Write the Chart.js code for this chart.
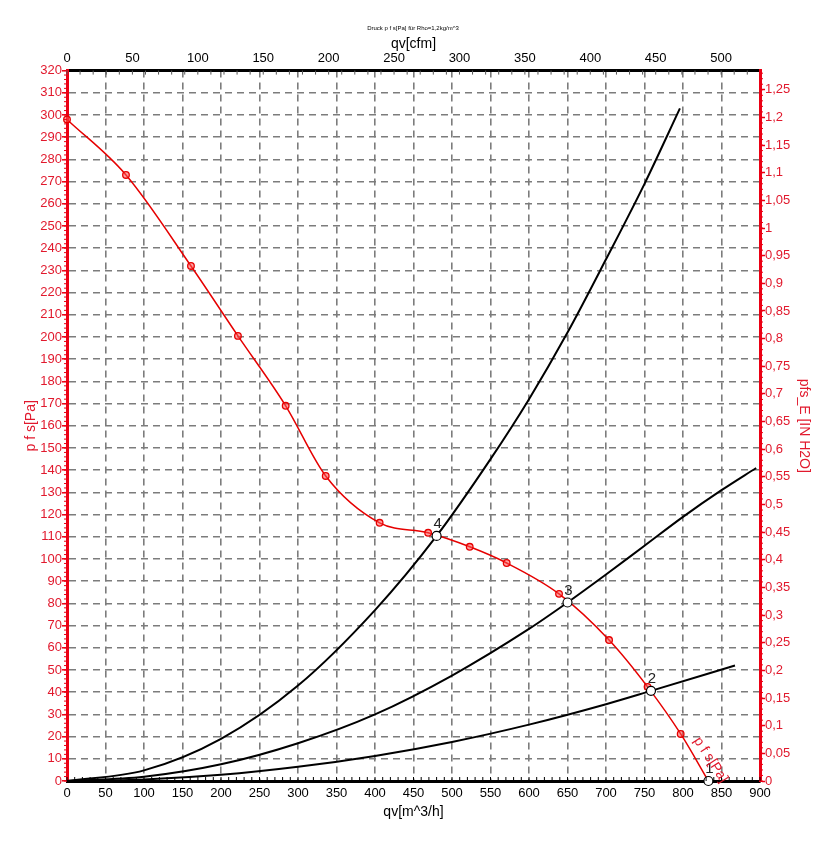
<!DOCTYPE html>
<html>
<head>
<meta charset="utf-8">
<script src="https://cdn.jsdelivr.net/npm/chart.js@4.4.0/dist/chart.umd.min.js"></script>
<style>
  html, body { margin: 0; padding: 0; background: #fff; }
  #wrap { width: 826px; height: 851px; }
</style>
</head>
<body>
<div id="wrap"><canvas id="fanChart" width="826" height="851"></canvas></div>
<script>
// fan curve p_fs [Pa] over qv [m^3/h], measured points
const qvFan  = [0, 76.6, 161, 222, 284, 336, 406, 469, 523, 571, 639, 704, 754, 797, 833];
const pfsFan = [298, 273, 232, 200.5, 169, 137.4, 116.3, 111.8, 105.5, 98.2, 84.3, 63.5, 42.4, 21.2, 0];

// system curves (black)
const qvSys4  = [0, 100, 200, 300, 400, 480, 550, 600, 650, 700, 750, 796];
const pfsSys4 = [0, 4.8, 19, 43, 77, 110.4, 145, 172, 202, 235, 269, 303];
const qvSys3  = [0, 100, 200, 300, 400, 500, 600, 650, 700, 750, 800, 850, 895];
const pfsSys3 = [0, 1.9, 7.5, 17, 30, 47.5, 68.5, 80.4, 93, 106, 119, 131, 141];
const qvSys2  = [0, 100, 200, 300, 400, 500, 600, 700, 758.4, 867.5];
const pfsSys2 = [0, 0.7, 2.8, 6.4, 11.3, 17.6, 25.4, 34.6, 40.6, 52];
const qvSys1  = [0, 833];
const pfsSys1 = [0, 0];

// operating points
const opLabels = ['1', '2', '3', '4'];
const opQv  = [833, 758.4, 650, 480];
const opPfs = [0, 40.6, 80.4, 110.4];

// axes
const qvMax = 900, pfsMax = 320;
const cfmPerM3h = 1 / 1.69901;
const inH2OPerPa = 1 / 249.089;

const FONT = 'Liberation Sans, Arial, sans-serif';
const RED = 'rgb(235,0,20)';
const RED_TXT = 'rgb(225,25,45)';
const GRID = '#7c7c7c';

const toXY = (xs, ys) => xs.map((v, i) => ({ x: v, y: ys[i] }));

function sysCurve(xs, ys) {
  return {
    data: toXY(xs, ys), showLine: true, borderColor: '#000', borderWidth: 2,
    pointRadius: 0, cubicInterpolationMode: 'monotone', clip: false, order: 3
  };
}

const extras = {
  id: 'extras',
  afterDraw(chart) {
    const { ctx, scales: { x, y, x2, y2 } } = chart;
    const area = chart.chartArea;
    ctx.save();
    ctx.lineWidth = 1;
    // minor ticks left / right
    ctx.strokeStyle = RED;
    for (let v = 0; v <= pfsMax; v += 2) {
      const py = y.getPixelForValue(v);
      ctx.beginPath(); ctx.moveTo(area.left - 3, py); ctx.lineTo(area.left, py); ctx.stroke();
    }
    for (let v = 0; v <= pfsMax * inH2OPerPa; v += 0.01) {
      const py = y2.getPixelForValue(v);
      ctx.beginPath(); ctx.moveTo(area.right, py); ctx.lineTo(area.right + 3, py); ctx.stroke();
    }
    // minor ticks bottom / top
    ctx.strokeStyle = '#000';
    for (let v = 0; v <= qvMax; v += 10) {
      const px = x.getPixelForValue(v);
      ctx.beginPath(); ctx.moveTo(px, area.bottom); ctx.lineTo(px, area.bottom - 4); ctx.stroke();
    }
    ctx.strokeStyle = '#555';
    for (let v = 0; v <= qvMax * cfmPerM3h; v += 10) {
      const px = x2.getPixelForValue(v);
      ctx.beginPath(); ctx.moveTo(px, area.top); ctx.lineTo(px, area.top + 4); ctx.stroke();
    }
    // operating point numbers
    ctx.fillStyle = '#222';
    ctx.font = '15px ' + FONT;
    ctx.textAlign = 'center';
    ctx.textBaseline = 'middle';
    opLabels.forEach((t, i) => {
      ctx.fillText(t, x.getPixelForValue(opQv[i]) + 1, y.getPixelForValue(opPfs[i]) - 12);
    });
    // curve name along the fan curve
    ctx.translate(x.getPixelForValue(836), y.getPixelForValue(9.5));
    ctx.rotate(57 * Math.PI / 180);
    ctx.fillStyle = RED_TXT;
    ctx.font = '14px ' + FONT;
    ctx.fillText('p f s[Pa]', 0, 0);
    ctx.restore();
  }
};

const ctx = document.getElementById('fanChart').getContext('2d');
const fanChart = new Chart(ctx, {
  type: 'scatter',
  data: {
    datasets: [
      {
        data: toXY(opQv, opPfs), pointRadius: 4.5, pointBackgroundColor: '#fff',
        pointBorderColor: '#000', pointBorderWidth: 1.2, clip: false, order: 0
      },
      {
        data: toXY(qvFan, pfsFan), showLine: true, borderColor: 'rgb(230,0,0)', borderWidth: 1.5,
        cubicInterpolationMode: 'monotone',
        pointRadius: c => (c.dataIndex === pfsFan.length - 1 ? 0 : 3.3),
        pointBackgroundColor: 'rgba(255,80,80,0.55)', pointBorderColor: 'rgb(230,0,0)',
        pointBorderWidth: 1.3, clip: false, order: 1
      },
      sysCurve(qvSys4, pfsSys4),
      sysCurve(qvSys3, pfsSys3),
      sysCurve(qvSys2, pfsSys2),
      sysCurve(qvSys1, pfsSys1)
    ]
  },
  options: {
    responsive: false,
    animation: false,
    devicePixelRatio: 1,
    layout: { padding: 0 },
    plugins: {
      legend: { display: false },
      tooltip: { enabled: false },
      title: {
        display: true, text: 'Druck p f s[Pa] für Rho=1,2kg/m^3', color: '#000',
        font: { size: 6, family: FONT, weight: 'normal' }, padding: { top: 25, bottom: 0 }
      }
    },
    scales: {
      x: {
        type: 'linear', position: 'bottom', min: 0, max: qvMax,
        ticks: { stepSize: 50, color: '#000', font: { size: 13, family: FONT }, padding: 5 },
        grid: {
          color: c => (c.tick && (c.tick.value === 0 || c.tick.value === qvMax) ? 'rgba(0,0,0,0)' : GRID),
          lineWidth: 1.6, drawTicks: false
        },
        border: { color: '#000', width: 3, dash: [7, 5] },
        title: { display: true, text: 'qv[m^3/h]', color: '#000', font: { size: 14, family: FONT }, padding: { bottom: 30 } },
        afterFit(s) { s.height = 70; }
      },
      x2: {
        type: 'linear', position: 'top', min: 0, max: qvMax * cfmPerM3h,
        ticks: { stepSize: 50, includeBounds: false, color: '#000', font: { size: 13, family: FONT }, padding: 4 },
        grid: { drawOnChartArea: false, drawTicks: false },
        border: { color: '#000', width: 3 },
        title: { display: true, text: 'qv[cfm]', color: '#000', font: { size: 14, family: FONT }, padding: { top: 4 } },
        afterFit(s) { s.height = 38.4; }
      },
      y: {
        type: 'linear', position: 'left', min: 0, max: pfsMax,
        ticks: { stepSize: 10, color: RED_TXT, font: { size: 13, family: FONT }, padding: 0 },
        grid: {
          color: c => (c.tick && (c.tick.value === 0 || c.tick.value === pfsMax) ? 'rgba(0,0,0,0)' : GRID),
          lineWidth: 1.6, tickLength: 5, tickColor: RED, tickWidth: 1.5
        },
        border: { color: RED, width: 3, dash: [7, 5] },
        title: { display: true, text: 'p f s[Pa]', color: RED_TXT, font: { size: 14, family: FONT }, padding: { top: 23 } },
        afterFit(s) { s.width = 67; }
      },
      y2: {
        type: 'linear', position: 'right', min: 0, max: pfsMax * inH2OPerPa,
        ticks: {
          stepSize: 0.05, includeBounds: false, color: RED_TXT, font: { size: 13, family: FONT }, padding: 0,
          callback: v => String(Number(v.toFixed(2))).replace('.', ',')
        },
        grid: { drawOnChartArea: false, tickLength: 5, tickColor: RED, tickWidth: 1.5 },
        border: { color: RED, width: 3 },
        title: { display: true, text: 'pfs_E [IN H2O]', color: RED_TXT, font: { size: 14, family: FONT }, padding: { top: 14 } },
        afterFit(s) { s.width = 66; }
      }
    }
  },
  plugins: [extras]
});
</script>
</body>
</html>
